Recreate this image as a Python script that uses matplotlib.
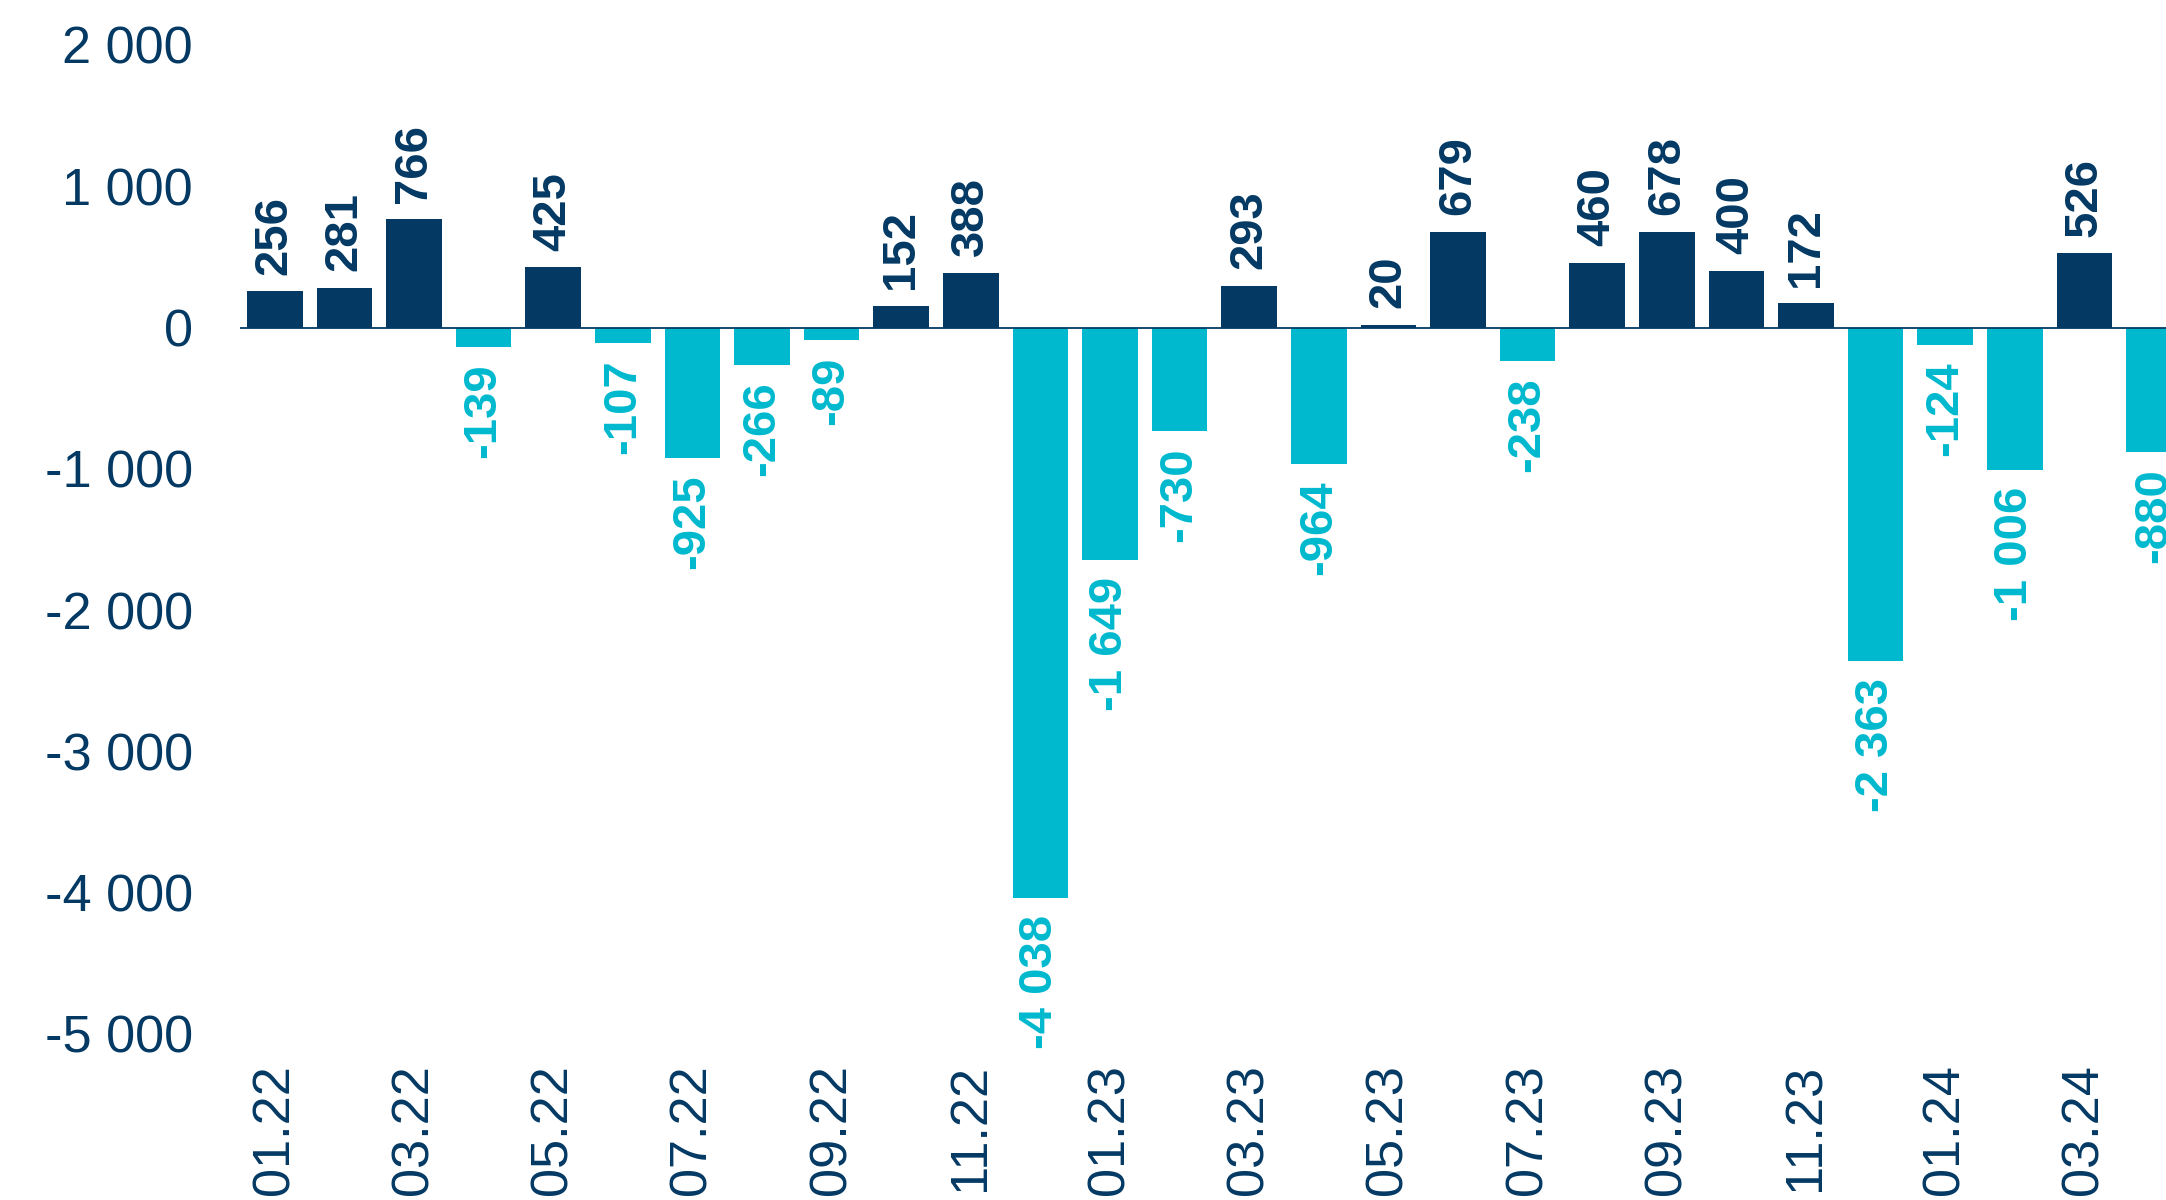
import matplotlib
matplotlib.use("Agg")
import matplotlib.pyplot as plt

months = ["01.22", "02.22", "03.22", "04.22", "05.22", "06.22", "07.22", "08.22",
          "09.22", "10.22", "11.22", "12.22", "01.23", "02.23", "03.23", "04.23",
          "05.23", "06.23", "07.23", "08.23", "09.23", "10.23", "11.23", "12.23",
          "01.24", "02.24", "03.24", "04.24"]
values = [256, 281, 766, -139, 425, -107, -925, -266, -89, 152, 388, -4038,
          -1649, -730, 293, -964, 20, 679, -238, 460, 678, 400, 172, -2363,
          -124, -1006, 526, -880]
yticks = [2000, 1000, 0, -1000, -2000, -3000, -4000, -5000]

NAVY = "#033963"
CYAN = "#00B9CE"

plt.rcParams["font.family"] = ["Liberation Sans", "DejaVu Sans"]

fig = plt.figure(figsize=(21.66, 12.0), dpi=100)
ax = fig.add_axes([240 / 2166, 1 - 1033.75 / 1200, 1948.8 / 2166, 988.75 / 1200])

def fmt(v):
    return f"{v:,.0f}".replace(",", " ")

x = list(range(len(values)))
colors = [NAVY if v >= 0 else CYAN for v in values]
ax.bar(x, values, width=0.8, color=colors, zorder=2)
ax.axhline(0, color=NAVY, lw=1.3, zorder=3)

for xi, v, c in zip(x, values, colors):
    if v >= 0:
        ax.annotate(fmt(v), (xi, v), xytext=(0, 12), textcoords="offset points",
                    rotation=90, ha="center", va="bottom", fontsize=34,
                    fontweight="bold", color=c, annotation_clip=False)
    else:
        ax.annotate(fmt(v), (xi, v), xytext=(0, -12), textcoords="offset points",
                    rotation=90, ha="center", va="top", fontsize=34,
                    fontweight="bold", color=c, annotation_clip=False)

ax.set_xlim(-0.5, len(values) - 0.5)
ax.set_ylim(-5000, 2000)
ax.set_yticks(yticks)
ax.set_yticklabels([fmt(v) for v in yticks])
ax.set_xticks(x[::2])
ax.set_xticklabels(months[::2], rotation=90)

for s in ax.spines.values():
    s.set_visible(False)
ax.tick_params(axis="y", length=0, pad=34, labelsize=37.7, labelcolor=NAVY)
ax.tick_params(axis="x", length=0, pad=22, labelsize=37.7, labelcolor=NAVY)

fig.savefig("out.png", dpi=100)
